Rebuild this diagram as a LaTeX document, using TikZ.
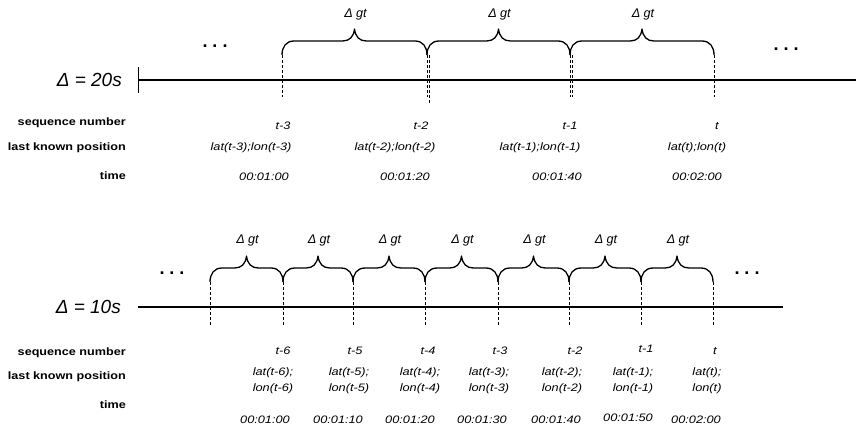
\documentclass[tikz,border=0pt]{standalone}
\usepackage{fontspec}
\setmainfont{Liberation Sans}
\newfontfamily\widefont[FakeStretch=1.18]{Liberation Sans}
\begin{document}
\begin{tikzpicture}[x=1pt,y=-1pt,
  axis/.style={line width=2.8pt},
  tickline/.style={line width=0.8pt, dash pattern=on 3pt off 2pt},
  gtb/.style={line width=1.3pt, line join=round},
  rowlabel/.style={anchor=east, font=\widefont\fontsize{10.7}{12}\selectfont\bfseries, inner sep=0pt},
  val/.style={font=\widefont\fontsize{10.8}{16}\selectfont\itshape, inner sep=0pt, align=center},
  gtlabel/.style={font=\fontsize{12.6}{14}\selectfont\itshape, inner sep=0pt},
  deltalabel/.style={anchor=east, font=\fontsize{19}{21}\selectfont\itshape, inner sep=0pt},
  dotsnode/.style={anchor=base, font=\fontsize{18}{19}\selectfont\bfseries, inner sep=0pt}
]
\useasboundingbox (0,0) rectangle (856,426);

% ---------------- top timeline (Delta = 20s) ----------------
\node[deltalabel] (d20) at (122,80) {Δ = 20s};
\coordinate (a1s) at (138,80);
\coordinate (a1e) at (856,80);
\coordinate (a1tt) at (138,67);
\coordinate (a1tb) at (138,93);
\draw[line width=1pt] (a1tt) -- (a1tb);
\draw[axis] (a1s) -- (a1e);

\foreach \x [count=\i] in {282,427,570,714} {
  \coordinate (ta\i) at (\x,55);
  \coordinate (tb\i) at (\x,97);
  \draw[tickline] (ta\i) -- (tb\i);
}
\coordinate (ta2b) at (429,55);
\coordinate (tb2b) at (429,103);
\draw[tickline] (ta2b) -- (tb2b);
\coordinate (ta3b) at (572,55);
\coordinate (tb3b) at (572,97);
\draw[tickline] (ta3b) -- (tb3b);

\foreach \a/\b [count=\i] in {282/427,427/570,570/714} {
  \pgfmathsetmacro\m{(\a+\b)/2}
  \draw[gtb] (\a,55) .. controls (\a,47) and (\a+4,41) .. (\a+12,41)
     -- (\m-12,41) .. controls (\m-5,41) and (\m-1,37) .. (\m,29)
     .. controls (\m+1,37) and (\m+5,41) .. (\m+12,41)
     -- (\b-12,41) .. controls (\b-4,41) and (\b,47) .. (\b,55);
  \node[gtlabel] (gta\i) at (\m+1,14) {Δ gt};
}

\node[dotsnode] (dta) at (215,47) {.\hspace{5pt}.\hspace{5pt}.};
\node[dotsnode] (dtb) at (786,50) {.\hspace{5pt}.\hspace{5pt}.};

\node[rowlabel] (sqa) at (126,123) {sequence number};
\node[rowlabel] (lpa) at (126,148) {last known position};
\node[rowlabel] (tma) at (126,176) {time};

\node[val] (sa1) at (283,126) {t-3};
\node[val] (sa2) at (421,126) {t-2};
\node[val] (sa3) at (570,126) {t-1};
\node[val] (sa4) at (717,126) {t};

\node[val] (pa1) at (251,148) {lat(t-3);lon(t-3)};
\node[val] (pa2) at (395,148) {lat(t-2);lon(t-2)};
\node[val] (pa3) at (540,148) {lat(t-1);lon(t-1)};
\node[val] (pa4) at (697,148) {lat(t);lon(t)};

\node[val] (ma1) at (264,177) {00:01:00};
\node[val] (ma2) at (405,177) {00:01:20};
\node[val] (ma3) at (557,177) {00:01:40};
\node[val] (ma4) at (697,177) {00:02:00};

% ---------------- bottom timeline (Delta = 10s) ----------------
\node[deltalabel] (d10) at (121,307) {Δ = 10s};
\coordinate (a2s) at (138,307);
\coordinate (a2e) at (783,307);
\draw[axis] (a2s) -- (a2e);

\foreach \x [count=\i] in {210,283,353,425,498,569,641,713} {
  \coordinate (tc\i) at (\x,282);
  \coordinate (td\i) at (\x,325);
  \draw[tickline] (tc\i) -- (td\i);
}

\foreach \a/\b [count=\i] in {210/283,283/353,353/425,425/498,498/569,569/641,641/713} {
  \pgfmathsetmacro\m{(\a+\b)/2}
  \draw[gtb] (\a,282) .. controls (\a,274) and (\a+4,268) .. (\a+12,268)
     -- (\m-12,268) .. controls (\m-5,268) and (\m-1,264) .. (\m,256)
     .. controls (\m+1,264) and (\m+5,268) .. (\m+12,268)
     -- (\b-12,268) .. controls (\b-4,268) and (\b,274) .. (\b,282);
  \node[gtlabel] (gtb\i) at (\m+1,240) {Δ gt};
}

\node[dotsnode] (dtc) at (172,274) {.\hspace{5pt}.\hspace{5pt}.};
\node[dotsnode] (dtd) at (747,274) {.\hspace{5pt}.\hspace{5pt}.};

\node[rowlabel] (sqb) at (126,353) {sequence number};
\node[rowlabel] (lpb) at (126,377) {last known position};
\node[rowlabel] (tmb) at (126,405) {time};

\node[val] (sb1) at (283,351) {t-6};
\node[val] (sb2) at (355,351) {t-5};
\node[val] (sb3) at (428,351) {t-4};
\node[val] (sb4) at (500,351) {t-3};
\node[val] (sb5) at (575,351) {t-2};
\node[val] (sb6) at (646,349) {t-1};
\node[val] (sb7) at (715,351) {t};

\node[val] (pb1) at (273,381) {lat(t-6);\\lon(t-6)};
\node[val] (pb2) at (349,381) {lat(t-5);\\lon(t-5)};
\node[val] (pb3) at (420,381) {lat(t-4);\\lon(t-4)};
\node[val] (pb4) at (489,381) {lat(t-3);\\lon(t-3)};
\node[val] (pb5) at (562,381) {lat(t-2);\\lon(t-2)};
\node[val] (pb6) at (633,381) {lat(t-1);\\lon(t-1)};
\node[val] (pb7) at (707,381) {lat(t);\\lon(t)};

\node[val] (mb1) at (265,420) {00:01:00};
\node[val] (mb2) at (338,420) {00:01:10};
\node[val] (mb3) at (410,420) {00:01:20};
\node[val] (mb4) at (482,420) {00:01:30};
\node[val] (mb5) at (556,420) {00:01:40};
\node[val] (mb6) at (628,418) {00:01:50};
\node[val] (mb7) at (696,420) {00:02:00};
\end{tikzpicture}
\end{document}
